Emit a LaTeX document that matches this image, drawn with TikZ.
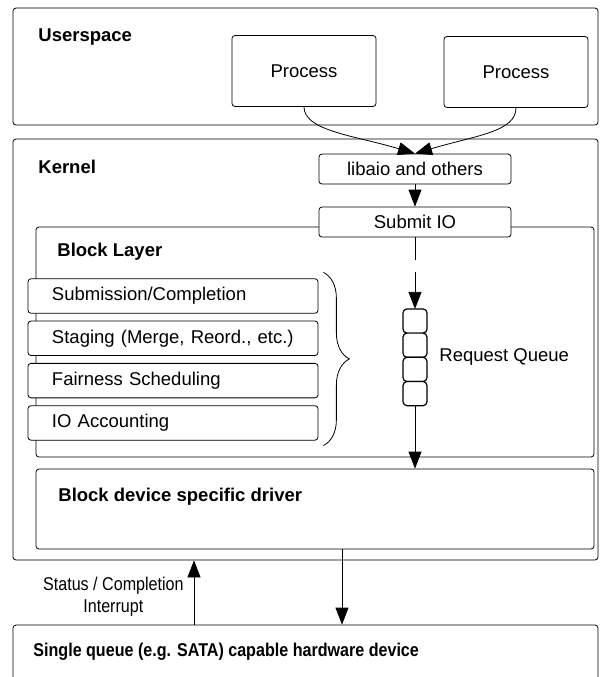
\documentclass[tikz,border=0pt]{standalone}
\usepackage{fontspec}
\setmainfont{Liberation Sans}
\usetikzlibrary{
  arrows.meta,
  positioning,               % Function "of" (e.g. [below=of x])
  decorations.pathreplacing, % Brace
}
\def\mygap{3.5pt}
\def\mysize{\fontsize{9.25}{11}\selectfont}
\newcommand{\narrow}[1]{\scalebox{0.87}[1]{#1}}
\tikzset{
  font=\mysize,
  line width=1.25pt,
  >={Triangle[length=8.5pt,width=6.5pt]},
  my frame/.style={
    draw,
    fill=white,
    inner sep=0mm,
    rounded corners=1.5pt,
    rectangle
  },
  my process/.style={
    my frame,
    minimum width=72pt,
    minimum height=35.5pt
  },
  my small/.style={
    my frame,
    minimum width=96pt,
    minimum height=15pt
  },
  my layer/.style={
    my frame,
    minimum height=17.25pt,
    text width=121pt,
    inner xsep=12pt,
    align=left
  },
  my cell/.style={
    my frame,
    line width=0.6pt,
    rounded corners=2pt,
    minimum width=12pt,
    minimum height=12.1pt,
    outer sep=0pt
  },
  my title/.style={
    anchor=west,
    inner sep=0mm,
    font=\mysize\bfseries
  },
  my text/.style={
    inner sep=0mm
  },
  my brace/.style={
    decorate,
    decoration={brace,amplitude=13pt}
  }
}
\begin{document}
\begin{tikzpicture}[x=0.5pt,y=-0.5pt]
\useasboundingbox (0,0) rectangle (600,677);
% outer frames
\node[my frame,minimum width=292.5pt,minimum height=58.5pt]  (user)   at (305.5,66.5) {};
\node[my frame,minimum width=292.5pt,minimum height=210.5pt] (kernel) at (305.5,349.5) {};
\node[my frame,minimum width=279pt,minimum height=115pt]     (block)  at (315,342) {};
\node[my frame,minimum width=279pt,minimum height=40pt]      (driver) at (315,509) {};
\node[my frame,minimum width=292.5pt,minimum height=37.5pt]  (hw)     at (305.5,662.5) {};
\node[my title] (usert)   at (38,37)  {Userspace};
\node[my title] (kernelt) at (38,167) {Kernel};
\node[my title] (blockt)  at (57,252) {Block Layer};
\node[my title] (drivert) at (58,497) {Block device specific driver};
\node[my title] (hwt)     at (33,652) {\narrow{Single queue (e.g. SATA) capable hardware device}};
% userspace
\node[my process] (p1) at (304,71) {Process};
\node[my process] (p2) at (516,72) {Process};
\node[my small]   (lib)    at (415,169) {libaio and others};
\node[my small]   (submit) at (415,222) {Submit IO};
% block layer
\node[my layer] (subm) at (173,296)              {Submission/Completion};
\node[my layer,below=\mygap of subm] (stag) {Staging (Merge, Reord., etc.)};
\node[my layer,below=\mygap of stag] (fair) {Fairness Scheduling};
\node[my layer,below=\mygap of fair] (acct) {IO Accounting};
\draw[my brace] ([shift={(2.5pt,3pt)}]subm.north east) -- ([shift={(2.5pt,-2.5pt)}]acct.south east);
\node[my cell] (q1) at (415,321) {};
\foreach \i [count=\j from 2] in {1,2,3}
  \node[my cell,below=0pt of q\i] (q\j) {};
\node[my text,right=6pt of q2.south east] (rq) {Request Queue};
% connectors
\draw[->] (p1.south) .. controls +(0,24) and +(-60,-18) .. (lib.north);
\draw[->] (p2.south) .. controls +(0,24) and +(60,-18) .. (lib.north);
\draw[->] (lib) -- (submit);
\draw[->,dash pattern=on 11.5pt off 6pt on 40pt] (submit) -- (q1);
\draw[->] (q4.south) -- (q4.south |- driver.north);
\coordinate (req) at (342,597);
\coordinate (irq) at (194,597);
\draw[->] (req |- driver.south) -- (req |- hw.north);
\draw[->] (irq |- hw.north) -- (irq |- kernel.south);
\node[my text,align=center,left=5pt of irq] (status) {\narrow{Status / Completion}\\\narrow{Interrupt}};
\end{tikzpicture}
\end{document}
